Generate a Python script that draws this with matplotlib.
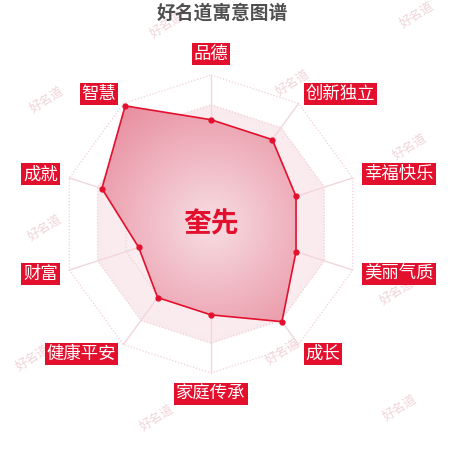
import numpy as np
import matplotlib
matplotlib.use('Agg')
import matplotlib.pyplot as plt
from matplotlib.patches import Polygon

plt.rcParams['font.family'] = ['Noto Sans CJK SC', 'DejaVu Sans']

title = '好名道寓意图谱'
name = '奎先'
labels = ['品德', '创新独立', '幸福快乐', '美丽气质', '成长',
          '家庭传承', '健康平安', '财富', '成就', '智慧']
values = [70, 70, 60, 60, 81, 61, 61, 51, 77, 98]
max_value = 100
levels = [20, 40, 60, 80, 100]

RED = '#e3102d'

# figure 450x450, chart centre at pixel (211, 224), radius 149 px
fig = plt.figure(figsize=(4.5, 4.5), dpi=100)
ax = fig.add_axes([0, 0, 1, 1])
ax.set_xlim(-211 / 149, 239 / 149)
ax.set_ylim(-226 / 149, 224 / 149)
ax.set_aspect('equal')
ax.axis('off')

n = len(labels)
theta = np.arange(n) * 2 * np.pi / n


def xy(r):
    r = np.asarray(r, dtype=float)
    return r * np.sin(theta), r * np.cos(theta)


# radial gradient helper
gx, gy = np.meshgrid(np.linspace(-1.1, 1.1, 400), np.linspace(-1.1, 1.1, 400))
gr = np.sqrt(gx ** 2 + gy ** 2)


def gradient(c0, c1, rmax):
    t = np.clip(gr / rmax, 0, 1)[..., None]
    return np.array(c0) * (1 - t) + np.array(c1) * t


# watermarks (behind the chart)
marks = [(167, 25), (417, 15), (293, 83), (47, 100), (410, 147), (45, 228),
         (300, 205), (397, 292), (153, 295), (283, 352), (33, 358),
         (157, 418), (400, 408)]
for px, py in marks:
    ax.text(px / 450, 1 - py / 450, '好名道', fontsize=9, color='#f0d4d9',
            rotation=33, ha='center', va='center', transform=fig.transFigure,
            zorder=0.5)

# background split area
bx, by = xy(np.full(n, 0.8))
bg_poly = Polygon(np.c_[bx, by], closed=True, fc='none', ec='none')
ax.add_patch(bg_poly)
im = ax.imshow(gradient((0.985, 0.94, 0.95), (0.98, 0.92, 0.935), 0.8),
               extent=[-1.1, 1.1, -1.1, 1.1], origin='lower', zorder=0.8)
im.set_clip_path(bg_poly)

# rings
for lv in levels:
    rx, ry = xy(np.full(n, lv / max_value))
    ax.plot(np.r_[rx, rx[0]], np.r_[ry, ry[0]], color='#f0cfd6',
            lw=0.9, ls=(0, (1, 1.5)), zorder=1)

# axis lines
ex, ey = xy(np.ones(n))
for i in range(n):
    ax.plot([0, ex[i]], [0, ey[i]], color='#f1d6dc', lw=1, zorder=1)

# data polygon
vx, vy = xy(np.array(values) / max_value)
poly = Polygon(np.c_[vx, vy], closed=True, fc='none', ec='none')
ax.add_patch(poly)
im2 = ax.imshow(gradient((0.97, 0.87, 0.89), (0.91, 0.55, 0.62), 1.0),
                extent=[-1.1, 1.1, -1.1, 1.1], origin='lower', zorder=2)
im2.set_clip_path(poly)
ax.plot(np.r_[vx, vx[0]], np.r_[vy, vy[0]], color=RED, lw=1.2, zorder=3)
ax.plot(vx, vy, 'o', color=RED, ms=3.5, zorder=4)

# axis names
lx, ly = xy(np.full(n, 1.08))
for i, lab in enumerate(labels):
    s, c = np.sin(theta[i]), np.cos(theta[i])
    ha = 'center' if abs(s) < 1e-6 else ('left' if s > 0 else 'right')
    va = 'center'
    if abs(s) < 1e-6:
        va = 'bottom' if c > 0 else 'top'
    ax.text(lx[i], ly[i], lab, ha=ha, va=va, fontsize=12.5, color='white',
            bbox=dict(boxstyle='square,pad=0.12', fc=RED, ec='none'), zorder=5)

# name in the middle
ax.text(0, 0, name, ha='center', va='center', fontsize=20, fontweight='bold',
        color=RED, zorder=6)

fig.text(0.494, 0.972, title, ha='center', va='center', fontsize=13.5,
         fontweight='bold', color='#505050')

fig.savefig('out.png', dpi=100)
